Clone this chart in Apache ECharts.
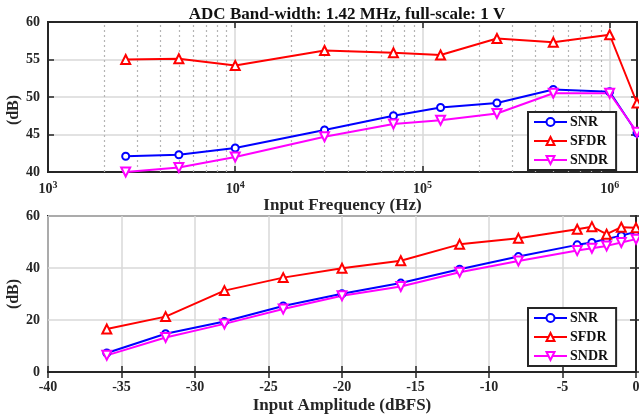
<!DOCTYPE html>
<html>
<head>
<meta charset="utf-8">
<script src="https://cdn.jsdelivr.net/npm/echarts@6/dist/echarts.min.js"></script>
<style>
html,body{margin:0;padding:0;background:#fff;}
#chart{width:639px;height:418px;}
</style>
</head>
<body>
<div id="chart"></div>
<script>
// ---- Top chart: versus input frequency ----
const freqHz = [2600, 5000, 10000, 30000, 70000, 125000, 250000, 500000, 1000000, 1400000];
const freqSNR  = [42.1, 42.3, 43.2, 45.6, 47.5, 48.6, 49.2, 51.0, 50.7, 45.2];
const freqSFDR = [55.0, 55.1, 54.2, 56.2, 55.9, 55.6, 57.8, 57.3, 58.3, 49.2];
const freqSNDR = [40.0, 40.6, 42.0, 44.7, 46.4, 46.9, 47.8, 50.5, 50.5, 45.3];
const freqMinorTicks = [2e3,3e3,4e3,5e3,6e3,7e3,8e3,9e3,2e4,3e4,4e4,5e4,6e4,7e4,8e4,9e4,2e5,3e5,4e5,5e5,6e5,7e5,8e5,9e5];

// ---- Bottom chart: versus input amplitude ----
const ampDBFS = [-36, -32, -28, -24, -20, -16, -12, -8, -4, -3, -2, -1, 0];
const ampSNR  = [7.3, 14.7, 19.4, 25.4, 30.1, 34.2, 39.5, 44.4, 48.9, 49.8, 51.2, 52.4, 54.0];
const ampSFDR = [16.5, 21.3, 31.3, 36.3, 39.9, 42.8, 49.1, 51.4, 54.9, 55.9, 53.0, 55.7, 55.5];
const ampSNDR = [6.4, 13.3, 18.5, 24.2, 29.3, 32.9, 38.4, 42.7, 46.7, 47.6, 48.5, 49.8, 51.1];

const titleText = 'ADC Band-width: 1.42 MHz, full-scale: 1 V';
const seriesNames = ['SNR', 'SFDR', 'SNDR'];

const FONT = '"Liberation Serif", "Times New Roman", serif';
const DARK = '#262626';
const GRIDC = '#d8d8d8';

const pairs = (xs, ys) => xs.map((x, i) => [x, ys[i]]);

const styles = {
  SNR:  {color: '#0000ff', symbol: 'emptyCircle', rot: 0, size: 7},
  SFDR: {color: '#ff0000', symbol: 'emptyTriangle', rot: 0, size: 9},
  SNDR: {color: '#ff00ff', symbol: 'emptyTriangle', rot: 180, size: 9}
};

function mkSeries(name, data, xi, yi, extra) {
  const s = styles[name];
  return Object.assign({
    name: name, type: 'line', data: data,
    xAxisIndex: xi, yAxisIndex: yi,
    symbol: s.symbol, symbolSize: s.size, symbolRotate: s.rot,
    lineStyle: {color: s.color, width: 2},
    itemStyle: {color: s.color, borderColor: s.color, borderWidth: 1.8},
    color: s.color,
    z: 5
  }, extra || {});
}

const tickLabel = {fontFamily: FONT, fontWeight: 'bold', fontSize: 14, color: DARK};
const nameStyle = {fontFamily: FONT, fontWeight: 'bold', fontSize: 17, color: DARK};
const axisLine = {show: true, lineStyle: {color: DARK, width: 2}};
const axisTick = {show: true, inside: true, length: 6, lineStyle: {color: DARK, width: 1.5}};

function logLabel(v) {
  const l = Math.log10(v);
  const e = Math.round(l);
  if (Math.abs(l - e) > 1e-6) return '';
  return '10{s|' + e + '}';
}

const option = {
  animation: false,
  backgroundColor: '#fff',
  title: {
    text: titleText, left: 342, top: 1, textAlign: 'center',
    textStyle: {fontFamily: FONT, fontWeight: 'bold', fontSize: 17, color: '#111'}
  },
  grid: [
    {left: 48, top: 22, width: 589, height: 150, show: true, borderColor: DARK, borderWidth: 2, backgroundColor: 'transparent', containLabel: false, outerBoundsMode: 'none'},
    {left: 48, top: 216, width: 588, height: 156, show: true, borderColor: DARK, borderWidth: 2, backgroundColor: 'transparent', containLabel: false, outerBoundsMode: 'none'}
  ],
  legend: [0, 1].map(i => ({
    data: seriesNames, orient: 'vertical',
    left: 528, top: i === 0 ? 112 : 308,
    itemWidth: 33, itemHeight: 10, itemGap: 5,
    padding: [3, 8, 3, 5],
    backgroundColor: '#fff', borderColor: DARK, borderWidth: 2,
    textStyle: {fontFamily: FONT, fontWeight: 'bold', fontSize: 14, color: '#111', padding: [0, 0, 0, -2]},
    selectedMode: false
  })),
  xAxis: [
    {
      gridIndex: 0, type: 'log', logBase: 10, min: 1000, max: 1400000, position: 'bottom',
      name: 'Input Frequency (Hz)', nameLocation: 'middle', nameGap: 25, nameMoveOverlap: false, nameTextStyle: nameStyle,
      axisLine: axisLine, axisTick: axisTick,
      axisLabel: {formatter: logLabel, margin: 8, ...tickLabel,
        rich: {s: {fontFamily: FONT, fontWeight: 'bold', fontSize: 10, color: DARK, verticalAlign: 'top', padding: [0, 0, 8, 0]}}},
      splitLine: {show: true, lineStyle: {color: GRIDC, width: 1.5}}
    },
    {
      gridIndex: 0, type: 'log', logBase: 10, min: 1000, max: 1400000, position: 'top',
      axisLine: axisLine, axisTick: axisTick, axisLabel: {show: false}, splitLine: {show: false}
    },
    {
      gridIndex: 1, type: 'value', min: -40, max: 0, interval: 5, position: 'bottom',
      name: 'Input Amplitude (dBFS)', nameLocation: 'middle', nameGap: 25, nameMoveOverlap: false, nameTextStyle: nameStyle,
      axisLine: axisLine, axisTick: axisTick, axisLabel: {margin: 8, ...tickLabel},
      splitLine: {show: true, lineStyle: {color: GRIDC, width: 1.5}}
    },
    {
      gridIndex: 1, type: 'value', min: -40, max: 0, interval: 5, position: 'top',
      axisLine: axisLine, axisTick: axisTick, axisLabel: {show: false}, splitLine: {show: false}
    }
  ],
  yAxis: [
    {
      gridIndex: 0, type: 'value', min: 40, max: 60, interval: 5, position: 'left',
      name: '(dB)', nameLocation: 'middle', nameGap: 26, nameMoveOverlap: false,
      nameTextStyle: Object.assign({}, nameStyle, {fontSize: 16, padding: [0, 26, 0, 0]}),
      axisLine: axisLine, axisTick: axisTick, axisLabel: {margin: 8, ...tickLabel},
      splitLine: {show: true, lineStyle: {color: GRIDC, width: 1.5}}
    },
    {
      gridIndex: 0, type: 'value', min: 40, max: 60, interval: 5, position: 'right',
      axisLine: axisLine, axisTick: axisTick, axisLabel: {show: false}, splitLine: {show: false}
    },
    {
      gridIndex: 1, type: 'value', min: 0, max: 60, interval: 20, position: 'left',
      name: '(dB)', nameLocation: 'middle', nameGap: 26, nameMoveOverlap: false,
      nameTextStyle: Object.assign({}, nameStyle, {fontSize: 16}),
      axisLine: axisLine, axisTick: axisTick, axisLabel: {margin: 8, ...tickLabel},
      splitLine: {show: true, lineStyle: {color: GRIDC, width: 1.5}}
    },
    {
      gridIndex: 1, type: 'value', min: 0, max: 60, interval: 20, position: 'right',
      axisLine: axisLine, axisTick: axisTick, axisLabel: {show: false}, splitLine: {show: false}
    }
  ],
  series: [
    mkSeries('SNR', pairs(freqHz, freqSNR), 0, 0, {
      markLine: {
        silent: true, symbol: ['none', 'none'], label: {show: false},
        lineStyle: {type: [2, 3], color: '#b4b4b4', width: 1.2},
        emphasis: {disabled: true},
        data: freqMinorTicks.map(v => ({xAxis: v})),
        z: 1
      }
    }),
    mkSeries('SFDR', pairs(freqHz, freqSFDR), 0, 0),
    mkSeries('SNDR', pairs(freqHz, freqSNDR), 0, 0),
    mkSeries('SNR', pairs(ampDBFS, ampSNR), 2, 2),
    mkSeries('SFDR', pairs(ampDBFS, ampSFDR), 2, 2),
    mkSeries('SNDR', pairs(ampDBFS, ampSNDR), 2, 2)
  ]
};

const chart = echarts.init(document.getElementById('chart'), null, {renderer: 'canvas'});
chart.setOption(option);
</script>
</body>
</html>
